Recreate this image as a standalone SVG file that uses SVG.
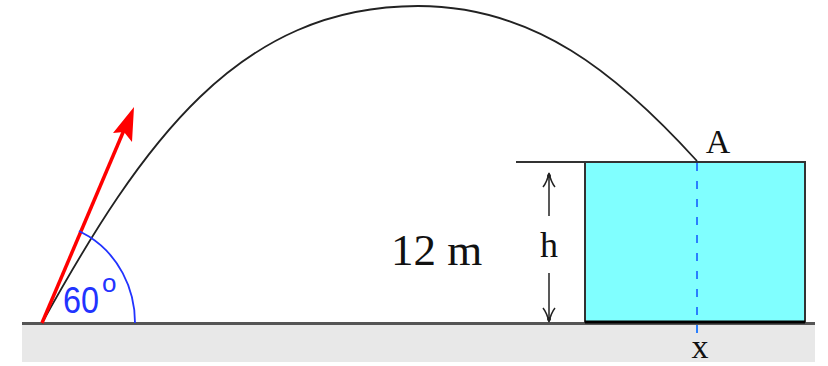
<svg xmlns="http://www.w3.org/2000/svg" width="828" height="366" viewBox="0 0 828 366">
  <style>
    .serif { font-family: "Liberation Serif", "Times New Roman", serif; fill: #111; }
    .dim { stroke: #222; stroke-width: 1.5; fill: none; }
    .blue { stroke: #2233ff; fill: none; }
  </style>
  <rect width="828" height="366" fill="#ffffff"/>

  <g id="ground">
    <rect x="22" y="325" width="793" height="37" fill="#e8e8e8"/>
    <line x1="22" y1="323.5" x2="815" y2="323.5" stroke="#555" stroke-width="3"/>
  </g>

  <g id="building">
    <rect x="585" y="162" width="220" height="160" fill="#80ffff" stroke="#333" stroke-width="2"/>
    <line x1="585" y1="322" x2="805" y2="322" stroke="#000" stroke-width="3"/>
    <line x1="516" y1="162" x2="585" y2="162" stroke="#333" stroke-width="2"/>
  </g>

  <g id="connectors">
    <path id="trajectory" d="M42,323 C142,143 238,6 418,6 C534,6 617,73 697,161" fill="none" stroke="#222" stroke-width="1.8"/>
    <line id="dashed-x" x1="697" y1="163" x2="697" y2="339" stroke="#2a7fff" stroke-width="2" stroke-dasharray="8,10"/>
    <g id="h-up">
      <line class="dim" x1="549" y1="174" x2="549" y2="216"/>
      <path class="dim" d="M543,187 Q547,182 549,173 Q551,182 555,187"/>
      <circle cx="549" cy="176" r="2" fill="#222"/>
    </g>
    <g id="h-down">
      <line class="dim" x1="549" y1="273" x2="549" y2="321"/>
      <path class="dim" d="M543,308 Q547,313 549,322 Q551,313 555,308"/>
      <circle cx="549" cy="319" r="2" fill="#222"/>
    </g>
  </g>

  <g id="velocity">
    <line x1="42" y1="323" x2="127" y2="123" stroke="#ff0000" stroke-width="3.5"/>
    <polygon points="134,107 132,142 124,132 113,133" fill="#ff0000"/>
  </g>

  <g id="angle">
    <path class="blue" d="M79,231 L89,236.5 A93,100 0 0 1 135,323" stroke-width="1.8"/>
    <text x="63" y="313" font-family="Liberation Sans, Arial, sans-serif" font-size="36" fill="#2233ff" textLength="36" lengthAdjust="spacingAndGlyphs">60</text>
    <text x="102" y="292" font-family="Liberation Sans, Arial, sans-serif" font-size="26" fill="#2233ff">o</text>
  </g>

  <g id="labels">
    <text class="serif" x="391" y="265" font-size="45">12 m</text>
    <text class="serif" x="549" y="257" font-size="36" text-anchor="middle">h</text>
    <text class="serif" x="718" y="153" font-size="34" text-anchor="middle">A</text>
    <text class="serif" x="700" y="358" font-size="34" text-anchor="middle">x</text>
  </g>
</svg>
